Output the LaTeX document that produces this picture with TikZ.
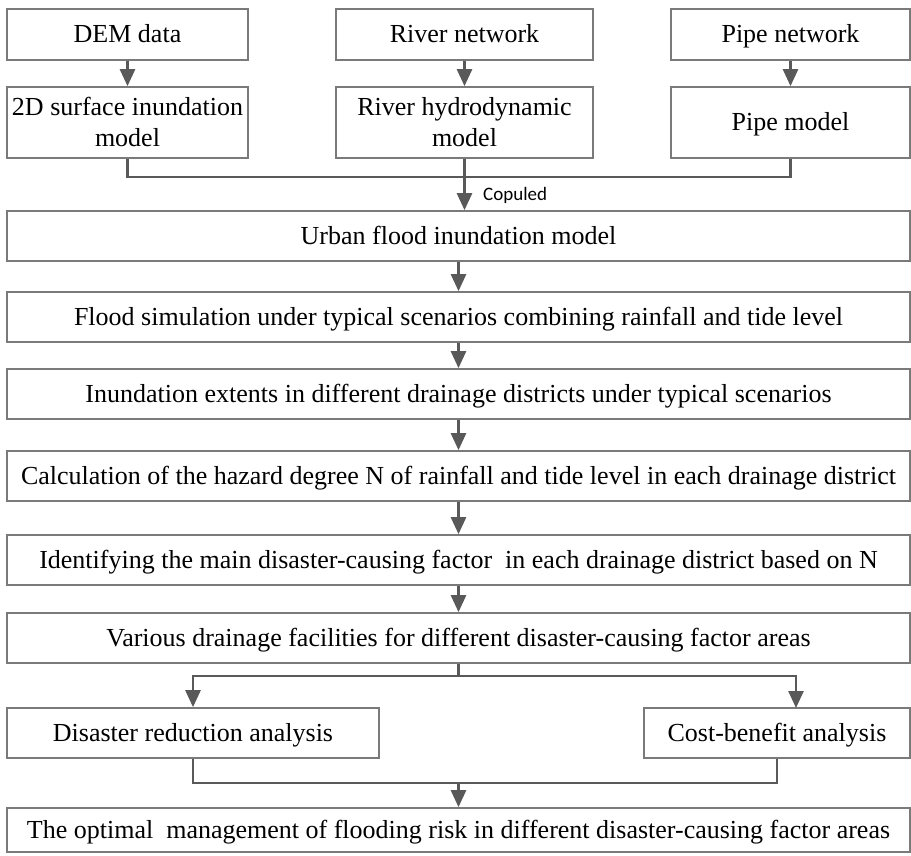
\documentclass[tikz,border=0pt]{standalone}
\usepackage{fontspec}
\setmainfont{Liberation Serif}
\newfontfamily\copfont{Carlito}
\usetikzlibrary{arrows.meta}
\definecolor{boxgray}{HTML}{7A7A7A}
\definecolor{arrgray}{HTML}{595959}
\begin{document}
\begin{tikzpicture}[x=1pt,y=-1pt,
  box/.style={draw=boxgray, line width=1.7pt, inner sep=0pt, align=center, fill=white,
    text height=22pt, text depth=5pt, font=\fontsize{26}{32}\selectfont},
  twoline/.style={text height=54pt},
  arr/.style={draw=arrgray, line width=2.6pt, -{Triangle[width=15pt,length=17pt]}},
  ln/.style={draw=arrgray, line width=2.6pt}]
\useasboundingbox[fill=white] (0,0) rectangle (911,856);
% top rows
\node[box, minimum width=241pt, minimum height=51pt] (dem) at (127.5,34.5) {DEM data};
\node[box, minimum width=257pt, minimum height=51pt] (riv) at (464.5,34.5) {River network};
\node[box, minimum width=239pt, minimum height=51pt] (pip) at (790.5,34.5) {Pipe network};
\node[box, twoline, minimum width=241pt, minimum height=71pt] (dem2) at (127.5,122.5) {2D surface inundation\\model};
\node[box, twoline, minimum width=257pt, minimum height=71pt] (riv2) at (464.5,122.5) {River hydrodynamic\\model};
\node[box, minimum width=239pt, minimum height=71pt] (pip2) at (790.5,122.5) {Pipe model};
% wide boxes
\node[box, minimum width=903pt, minimum height=50pt] (urb) at (458.5,236) {Urban flood inundation model};
\node[box, minimum width=903pt, minimum height=50pt] (fld) at (458.5,317) {Flood simulation under typical scenarios combining rainfall and tide level};
\node[box, minimum width=903pt, minimum height=50pt] (inu) at (458.5,394) {Inundation extents in different drainage districts under typical scenarios};
\node[box, minimum width=903pt, minimum height=50pt] (cal) at (458.5,476) {Calculation of the hazard degree N of rainfall and tide level in each drainage district};
\node[box, minimum width=903pt, minimum height=50pt] (idf) at (458.5,560) {Identifying the main disaster-causing factor\ \ in each drainage district based on N};
\node[box, minimum width=903pt, minimum height=50pt] (var) at (458.5,638) {Various drainage facilities for different disaster-causing factor areas};
\node[box, minimum width=372pt, minimum height=50pt] (dis) at (193,733) {Disaster reduction analysis};
\node[box, minimum width=266pt, minimum height=50pt] (cst) at (777,733) {Cost-benefit analysis};
\node[box, minimum width=903pt, minimum height=44pt] (opt) at (458.5,830) {The optimal\ \ management of flooding risk in different disaster-causing factor areas};
% connectors top
\draw[arr] (dem) -- (dem2);
\draw[arr] (riv) -- (riv2);
\draw[arr] (pip) -- (pip2);
\coordinate (jt) at (464.5,177);
\draw[ln] (dem2.south) |- (jt);
\draw[ln] (pip2.south) |- (jt);
\draw[arr] (riv2.south) -- (urb.north -| riv2.south);
\node[font=\copfont\fontsize{19}{22}\selectfont, anchor=west, inner sep=0pt] (cop) at (483,195) {Copuled};
% chain
\draw[arr] (urb) -- (fld);
\draw[arr] (fld) -- (inu);
\draw[arr] (inu) -- (cal);
\draw[arr] (cal) -- (idf);
\draw[arr] (idf) -- (var);
% split
\coordinate (sp) at (458.5,676);
\coordinate (cin) at (796,708);
\draw[ln] (var.south) -- (sp);
\draw[arr] (sp) -| (dis.north);
\draw[arr] (sp) -| (cin);
% join
\coordinate (jn) at (458.5,783);
\draw[ln] (dis.south) |- (jn);
\draw[ln] (cst.south) |- (jn);
\draw[arr] (jn) -- (opt.north);
\end{tikzpicture}
\end{document}
